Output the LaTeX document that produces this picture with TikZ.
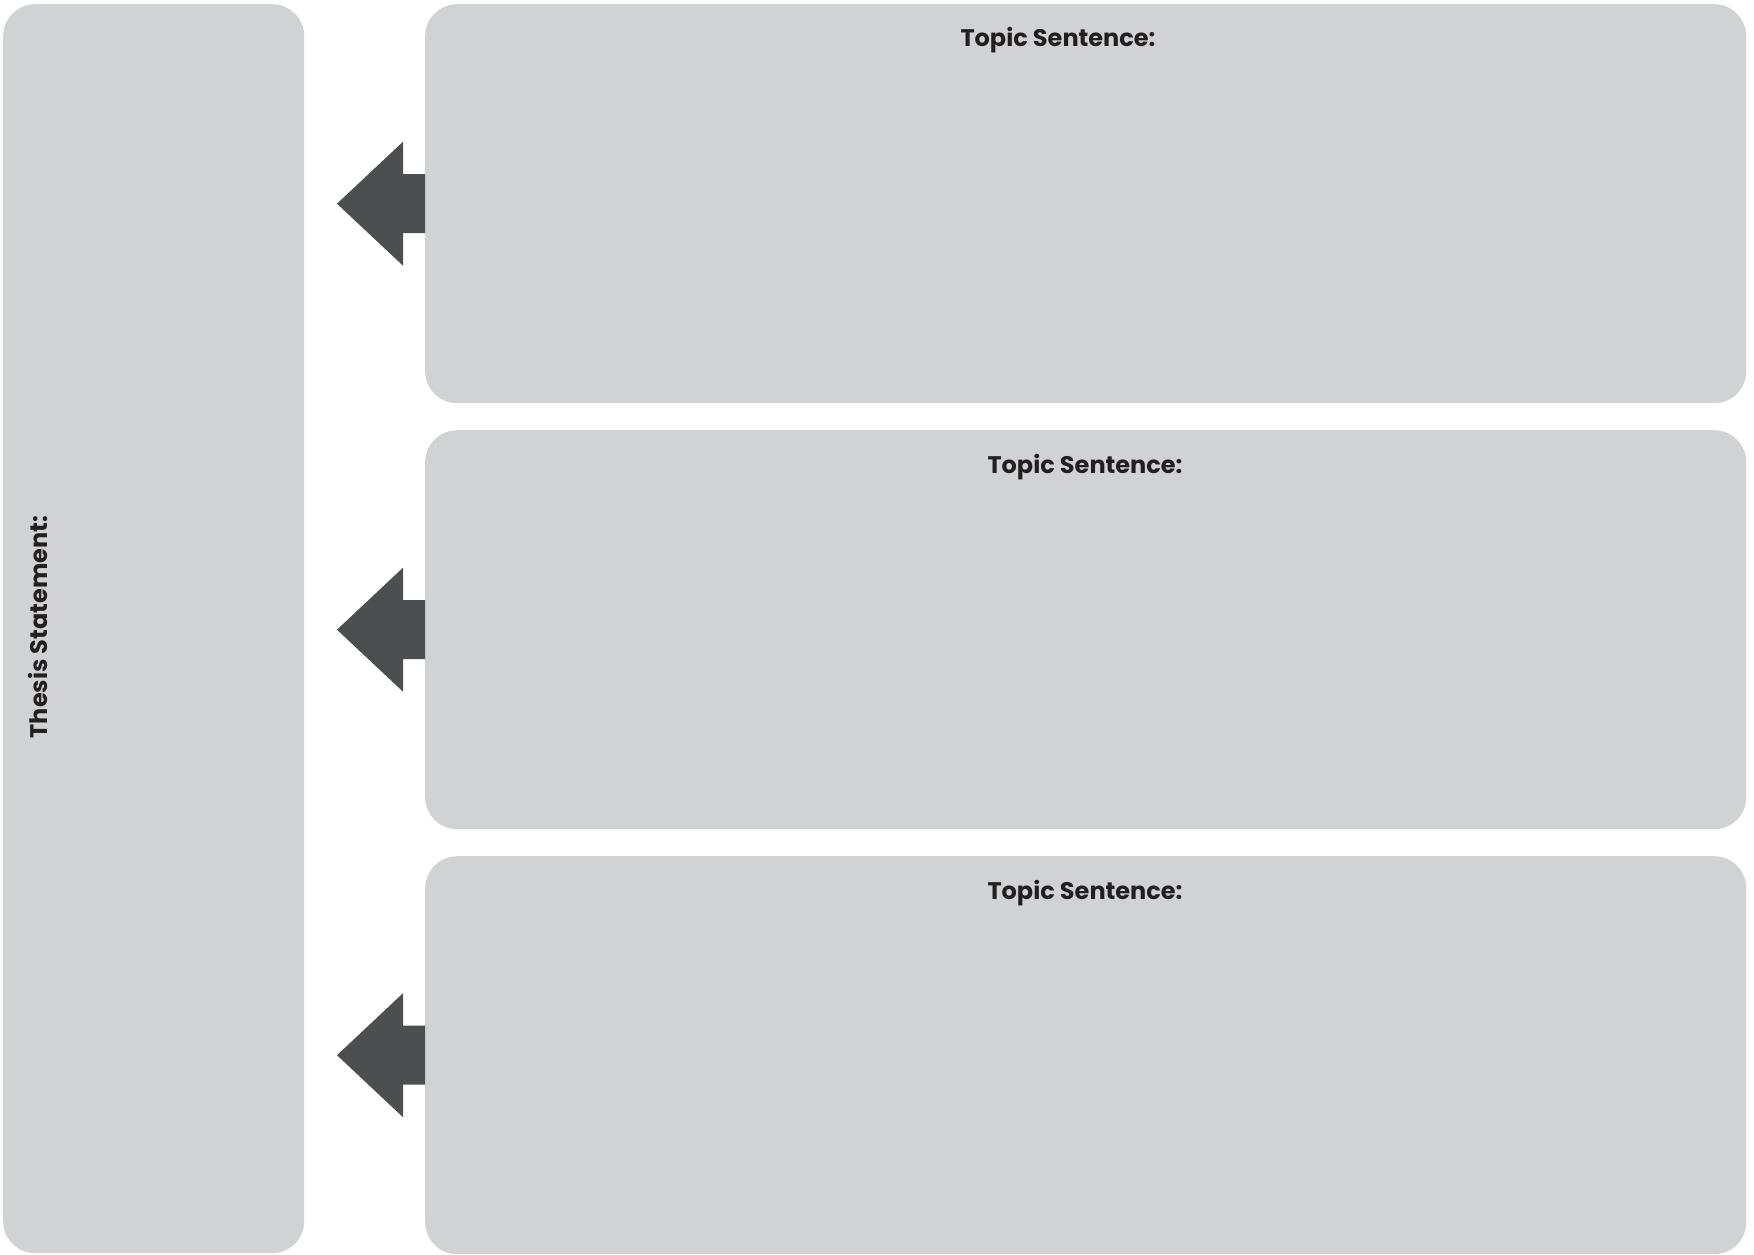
\documentclass[tikz,border=0pt]{standalone}
\usepackage{fontspec}
\setmainfont{Poppins}
\definecolor{boxgray}{HTML}{D1D2D4}
\definecolor{arrowgray}{HTML}{4D4E50}
\definecolor{txt}{HTML}{231F20}
\begin{document}
\begin{tikzpicture}[x=1pt,y=-1pt,
  panel/.style={fill=boxgray,draw=none,rounded corners=32pt,inner sep=0pt,anchor=north west},
  lbl/.style={text=txt,font=\fontsize{24}{28}\selectfont\bfseries,inner sep=0pt,anchor=base},
  bigarrow/.style={fill=arrowgray,draw=none}]
\useasboundingbox (0,0) rectangle (1754,1255);
\node[panel,minimum width=301pt,minimum height=1249pt] (thesis) at (3,4) {};
\node[panel,minimum width=1321pt,minimum height=399pt] (t1) at (425,4) {};
\node[panel,minimum width=1321pt,minimum height=399pt] (t2) at (425,430) {};
\node[panel,minimum width=1321pt,minimum height=398pt] (t3) at (425,856) {};
\node[lbl] (l1) at (1058,47) {Topic Sentence:};
\node[lbl] (l2) at (1085,473) {Topic Sentence:};
\node[lbl] (l3) at (1085,899) {Topic Sentence:};
\node[lbl,rotate=90] (lt) at (47,627) {Thesis Statement:};
\foreach \b in {t1,t2,t3}{
  \fill[bigarrow] (\b.west) ++(0,-29.5) -- ++(-22,0) -- ++(0,-32.5) -- ++(-66,62) -- ++(66,62) -- ++(0,-32.5) -- ++(22,0) -- cycle;
}
\end{tikzpicture}
\end{document}
